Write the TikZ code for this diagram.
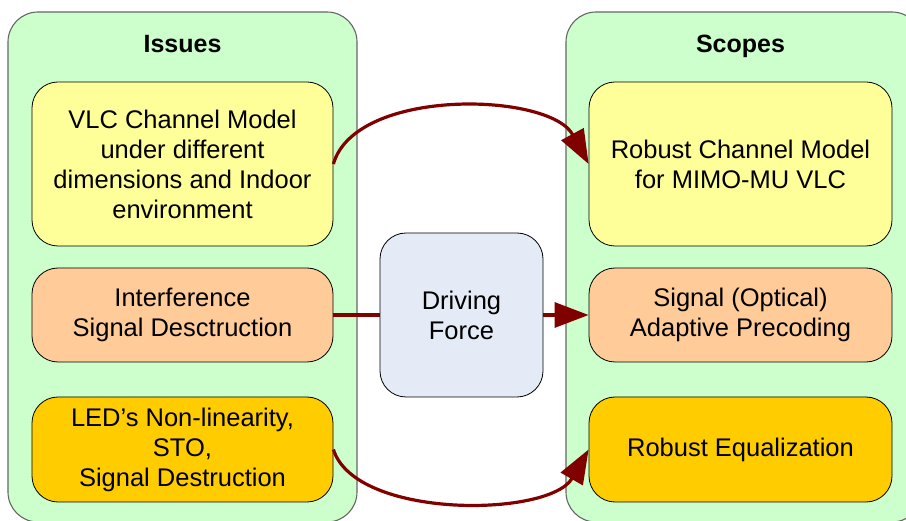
\documentclass[tikz,border=0pt]{standalone}
\usepackage{fontspec}
\setmainfont{Liberation Sans}
\usetikzlibrary{arrows.meta}
\definecolor{contgreen}{HTML}{CCFFCC}
\definecolor{boxyellow}{HTML}{FFFF99}
\definecolor{boxorange}{HTML}{FFCC99}
\definecolor{boxgold}{HTML}{FFCC00}
\definecolor{boxblue}{HTML}{E5EBF6}
\definecolor{arrred}{HTML}{800000}
\begin{document}
\begin{tikzpicture}[x=1pt,y=-1pt,
  cont/.style={draw=black!60, line width=1.1pt, fill=contgreen, rounded corners=30pt},
  box/.style={draw=black, line width=0.8pt, rectangle, rounded corners=26pt, align=center,
    inner sep=0pt, font=\fontsize{25.5}{30}\selectfont},
  ttl/.style={font=\fontsize{25}{30}\selectfont\bfseries, anchor=base},
  link/.style={draw=arrred, line width=3.2pt},
  arr/.style={link, -{Triangle[length=34pt,width=25pt]}}]
\useasboundingbox (0,0) rectangle (906,521);
\clip (0,0) rectangle (906,521);
% containers
\path[cont] (8,12) rectangle (357,522);
\path[cont] (566,12) rectangle (922,522);
\node[ttl] (tissues) at (182.5,53) {Issues};
\node[ttl] (tscopes) at (740.5,53) {Scopes};
% left boxes
\node[box, fill=boxyellow, minimum width=301pt, minimum height=164pt] (l1) at (182.5,164)
  {VLC Channel Model\\under different\\dimensions and Indoor\\environment};
\node[box, fill=boxorange, minimum width=301pt, minimum height=94pt] (l2) at (182.5,315)
  {Interference\\Signal Desctruction};
\node[box, fill=boxgold, minimum width=301pt, minimum height=105pt] (l3) at (182.5,449.5)
  {LED’s Non-linearity,\\STO,\\Signal Destruction};
% right boxes
\node[box, fill=boxyellow, minimum width=303pt, minimum height=164pt] (r1) at (740.5,164)
  {Robust Channel Model\\for MIMO-MU VLC};
\node[box, fill=boxorange, minimum width=303pt, minimum height=94pt] (r2) at (740.5,315)
  {Signal (Optical)\\Adaptive Precoding};
\node[box, fill=boxgold, minimum width=303pt, minimum height=105pt] (r3) at (740.5,449.5)
  {Robust Equalization};
% driving force
\node[box, fill=boxblue, minimum width=163pt, minimum height=164pt] (df) at (461.5,315)
  {Driving\\Force};
% connectors
\draw[arr] (l1.east) .. controls +(22,-77) and +(-39,-72) .. (r1.west);
\draw[link] (l2.east) -- (df.west);
\draw[arr] (df.east) -- (r2.west);
\draw[arr] (l3.east) .. controls +(22,70) and +(-39,68) .. (r3.west);
\end{tikzpicture}
\end{document}
